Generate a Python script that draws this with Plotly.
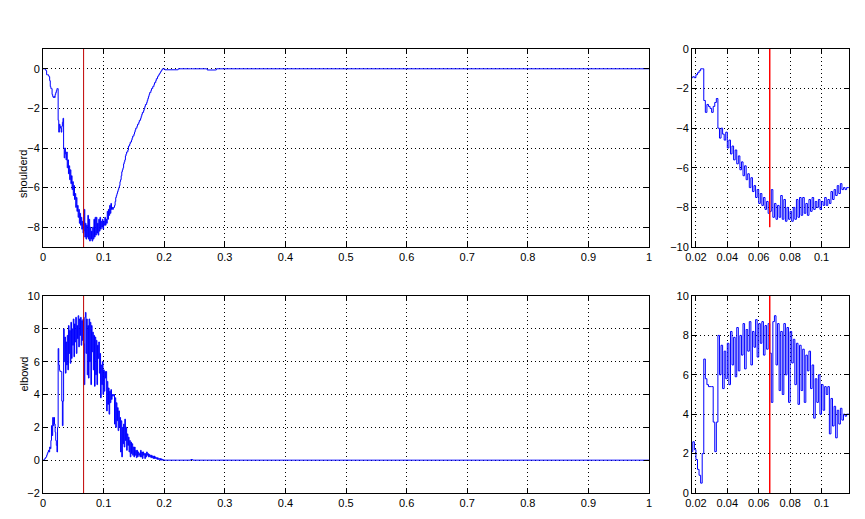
import plotly.graph_objects as go

# ---- data -------------------------------------------------------------
# main sampling grid (seconds), 1 ms steps from 0 to 0.200
t_main = [round(i * 0.001, 3) for i in range(201)]
# sparse tail after 0.2 s
t_tail = [0.201, 0.222, 0.223, 0.243, 0.244, 0.246, 0.247, 0.27, 0.271, 0.285, 0.286, 1.0]

shoulder_main = [
    0, 0, 0, 0, -0.05, -0.1, -0.3, -0.3, -0.3, -0.35,          # 0.000-0.009
    -0.4, -0.6, -0.9, -1.0, -1.0, -1.3, -1.4, -1.45, -1.4, -1.45,  # 0.010-0.019
    -1.3, -1.2, -1.1, -1.0, -1.0, -2.6, -3.2, -2.8, -2.9, -3.0,  # 0.020-0.029
    -3.2, -2.9, -2.7, -2.5, -4.0, -4.5, -4.0, -4.3, -4.6, -4.2,  # 0.030-0.039
    -5.0, -4.6, -5.3, -4.9, -5.6, -5.1, -5.8, -5.4, -6.1, -5.7,  # 0.040-0.049
    -6.4, -5.9, -6.6, -6.3, -7.0, -6.5, -7.2, -6.9, -7.5, -7.1,  # 0.050-0.059
    -7.8, -7.3, -7.9, -7.5, -8.1, -7.7, -8.3, -8.2, -7.1, -8.5,  # 0.060-0.069
    -7.8, -8.6, -7.9, -8.5, -7.4, -8.6, -7.6, -8.7, -8.0, -8.6,  # 0.070-0.079
    -8.2, -8.7, -8.0, -8.6, -7.6, -8.5, -7.5, -8.4, -7.5, -8.3,  # 0.080-0.089
    -7.8, -8.4, -7.6, -8.2, -7.5, -8.1, -7.7, -8.0, -7.6, -8.1,  # 0.090-0.099
    -7.7, -7.9, -7.5, -7.9, -7.6, -7.8, -7.2, -7.6, -7.1, -7.4,  # 0.100-0.109
    -6.9, -7.3, -6.8, -7.1, -7.0, -7.1, -7.0, -7.0, -6.9, -6.7,  # 0.110-0.119
    -6.5, -6.4, -6.3, -6.2, -6.1, -6.0, -5.9, -5.7, -5.6, -5.4,  # 0.120-0.129
    -5.2, -5.1, -5.0, -4.8, -4.7, -4.6, -4.4, -4.3, -4.2, -4.2,  # 0.130-0.139
    -4.1, -3.9, -3.9, -3.8, -3.7, -3.7, -3.6, -3.5, -3.4, -3.4,  # 0.140-0.149
    -3.3, -3.2, -3.1, -3.0, -3.0, -2.9, -2.8, -2.8, -2.7, -2.6,  # 0.150-0.159
    -2.6, -2.5, -2.4, -2.3, -2.2, -2.2, -2.1, -2.0, -1.9, -1.8,  # 0.160-0.169
    -1.8, -1.7, -1.6, -1.5, -1.4, -1.3, -1.2, -1.2, -1.1, -1.0,  # 0.170-0.179
    -1.0, -0.9, -0.9, -0.8, -0.7, -0.7, -0.6, -0.5, -0.5, -0.4,  # 0.180-0.189
    -0.35, -0.3, -0.25, -0.2, -0.15, -0.1, -0.05, 0.0, 0.0, 0.0,  # 0.190-0.199
    0.0,                                                          # 0.200
]
shoulder_tail = [-0.05, -0.05, 0, 0, 0, 0, 0, 0, -0.06, -0.06, 0, 0]

elbow_main = [
    0.0, 0.0, 0.05, 0.1, 0.15, 0.2, 0.3, 0.4, 0.5, 0.6,          # 0.000-0.009
    0.5, 0.8, 0.7, 1.2, 2.1, 1.5, 2.6, 2.1, 2.6, 2.2,            # 0.010-0.019
    1.7, 1.2, 0.9, 0.5, 2.0, 6.8, 5.8, 5.5, 5.4, 5.4,            # 0.020-0.029
    5.4, 3.6, 2.1, 3.6, 8.0, 6.0, 7.5, 5.3, 7.2, 5.8,            # 0.030-0.039
    7.6, 5.5, 8.2, 6.5, 7.9, 5.9, 8.4, 6.2, 8.0, 7.0,            # 0.040-0.049
    8.6, 6.3, 8.3, 7.2, 8.7, 6.5, 8.2, 7.4, 8.8, 6.9,            # 0.050-0.059
    8.6, 7.6, 8.7, 7.0, 8.5, 7.3, 8.6, 7.1, 4.6, 8.7,            # 0.060-0.069
    9.0, 6.5, 8.6, 5.2, 8.2, 5.0, 8.6, 6.0, 8.4, 4.6,            # 0.070-0.079
    8.2, 6.6, 7.8, 5.5, 7.6, 4.5, 7.5, 5.2, 7.3, 4.6,            # 0.080-0.089
    7.0, 6.2, 7.2, 5.3, 6.5, 3.8, 5.8, 4.6, 6.0, 4.0,            # 0.090-0.099
    5.5, 4.2, 5.4, 5.0, 5.4, 3.0, 4.8, 3.4, 4.4, 2.8,            # 0.100-0.109
    4.2, 3.5, 4.3, 3.7, 4.0, 3.9, 4.0, 4.0, 2.2, 3.8,            # 0.110-0.119
    2.0, 3.5, 2.4, 3.2, 1.8, 3.0, 2.0, 2.6, 0.5, 2.4,            # 0.120-0.129
    0.2, 2.0, 1.0, 2.2, 0.8, 2.5, 1.2, 2.0, 0.6, 1.6,            # 0.130-0.139
    0.9, 1.4, 0.5, 1.2, 0.2, 1.1, 0.4, 1.0, 0.3, 0.8,            # 0.140-0.149
    0.2, 0.8, 0.3, 0.6, 0.15, 0.6, 0.2, 0.5, 0.3, 0.4,           # 0.150-0.159
    0.2, 0.6, 0.2, 0.5, 0.1, 0.5, 0.3, 0.4, 0.1, 0.4,            # 0.160-0.169
    0.2, 0.5, 0.3, 0.4, 0.2, 0.35, 0.2, 0.3, 0.15, 0.3,          # 0.170-0.179
    0.15, 0.25, 0.1, 0.25, 0.1, 0.2, 0.1, 0.15, 0.05, 0.15,      # 0.180-0.189
    0.05, 0.1, 0.05, 0.1, 0.0, 0.08, 0.0, 0.05, 0.0, 0.02,       # 0.190-0.199
    0.0,                                                          # 0.200
]
elbow_tail = [0, 0, 0, 0, 0.04, 0.04, 0, 0, 0, 0, 0, 0]

# marker time (vertical red line) and its extents per panel
marker_t = 0.067
marker_y_shoulder_full = [-9, 1]
marker_y_shoulder_zoom = [-9, 0]
marker_y_elbow_full = [-2, 10]
marker_y_elbow_zoom = [0, 10]

t_all = t_main + t_tail
shoulder = shoulder_main + shoulder_tail
elbow = elbow_main + elbow_tail

# ---- figure -----------------------------------------------------------
W, H = 865, 519
fig = go.Figure()

BLUE = "#0000ff"

def add_signal(x, y, xa, ya):
    fig.add_trace(go.Scatter(x=x, y=y, mode="lines", line=dict(color=BLUE, width=1, shape="hv"),
                             xaxis=xa, yaxis=ya, showlegend=False, hoverinfo="skip"))

def add_marker(yr, xa, ya, color, width):
    fig.add_trace(go.Scatter(x=[marker_t, marker_t], y=yr, mode="lines", line=dict(color=color, width=width),
                             xaxis=xa, yaxis=ya, showlegend=False, hoverinfo="skip"))

add_signal(t_all, shoulder, "x", "y")
add_marker(marker_y_shoulder_full, "x", "y", "#c00000", 1)
add_signal(t_all, shoulder, "x2", "y2")
add_marker(marker_y_shoulder_zoom, "x2", "y2", "#ff0000", 1.5)
add_signal(t_all, elbow, "x3", "y3")
add_marker(marker_y_elbow_full, "x3", "y3", "#c00000", 1)
add_signal(t_all, elbow, "x4", "y4")
add_marker(marker_y_elbow_zoom, "x4", "y4", "#ff0000", 1.5)

def px_x(a, b):
    return [a / W, b / W]

def px_y(top, bottom):
    return [1 - bottom / H, 1 - top / H]

axis_common = dict(showline=True, linecolor="black", linewidth=1, mirror="ticks",
                   ticks="inside", ticklen=5, tickcolor="black", tickwidth=1,
                   showgrid=True, gridcolor="black", gridwidth=1, griddash="1px,3px",
                   zeroline=False, automargin=False,
                   tickfont=dict(family="Liberation Sans, Arial", size=11, color="black"))

left_x = px_x(43, 649)
right_x = px_x(692, 849)
top_y = px_y(49, 247)
bot_y = px_y(296, 493)

fig.update_layout(
    width=W, height=H, margin=dict(l=0, r=0, t=0, b=0, pad=0, autoexpand=False),
    paper_bgcolor="white", plot_bgcolor="white",
    xaxis=dict(domain=left_x, range=[0, 1], tickmode="array",
               tickvals=[0, 0.1, 0.2, 0.3, 0.4, 0.5, 0.6, 0.7, 0.8, 0.9, 1],
               ticktext=["0", "0.1", "0.2", "0.3", "0.4", "0.5", "0.6", "0.7", "0.8", "0.9", "1"],
               anchor="y", **axis_common),
    yaxis=dict(domain=top_y, range=[-9, 1], tickvals=[-8, -6, -4, -2, 0], anchor="x", **axis_common),
    xaxis2=dict(domain=right_x, range=[0.0175, 0.1175], tickvals=[0.02, 0.04, 0.06, 0.08, 0.1],
                ticktext=["0.02", "0.04", "0.06", "0.08", "0.1"], anchor="y2", **axis_common),
    yaxis2=dict(domain=top_y, range=[-10, 0], tickvals=[-10, -8, -6, -4, -2, 0], anchor="x2", **axis_common),
    xaxis3=dict(domain=left_x, range=[0, 1], tickmode="array",
                tickvals=[0, 0.1, 0.2, 0.3, 0.4, 0.5, 0.6, 0.7, 0.8, 0.9, 1],
                ticktext=["0", "0.1", "0.2", "0.3", "0.4", "0.5", "0.6", "0.7", "0.8", "0.9", "1"],
                anchor="y3", **axis_common),
    yaxis3=dict(domain=bot_y, range=[-2, 10], tickvals=[-2, 0, 2, 4, 6, 8, 10], anchor="x3", **axis_common),
    xaxis4=dict(domain=right_x, range=[0.0175, 0.1175], tickvals=[0.02, 0.04, 0.06, 0.08, 0.1],
                ticktext=["0.02", "0.04", "0.06", "0.08", "0.1"], anchor="y4", **axis_common),
    yaxis4=dict(domain=bot_y, range=[0, 10], tickvals=[0, 2, 4, 6, 8, 10], anchor="x4", **axis_common),
    annotations=[
        dict(text="shoulderd", x=15 / W, y=1 - 148 / H, xref="paper", yref="paper", textangle=-90,
             showarrow=False, font=dict(family="Liberation Sans, Arial", size=11, color="black")),
        dict(text="elbowd", x=15 / W, y=1 - 394 / H, xref="paper", yref="paper", textangle=-90,
             showarrow=False, font=dict(family="Liberation Sans, Arial", size=11, color="black")),
    ],
)

fig.write_html(
    "out.html",
    config={"displayModeBar": False},
    post_script="document.body.style.margin='0px';document.body.style.overflow='hidden';",
)
